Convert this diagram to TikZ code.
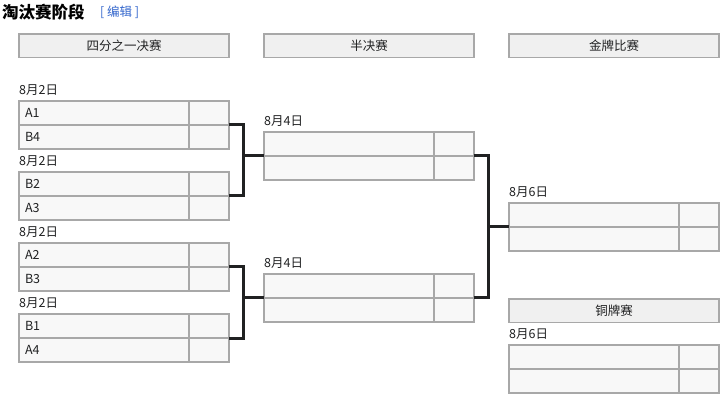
\documentclass[tikz,border=0pt]{standalone}
\usepackage{fontspec}
\setmainfont{Noto Sans CJK SC}
\usetikzlibrary{positioning,calc}
\definecolor{boxgray}{HTML}{A8A8A8}
\definecolor{rowfill}{HTML}{F8F8F8}
\definecolor{headfill}{HTML}{F0F0F0}
\definecolor{inkdark}{HTML}{202122}
\definecolor{editblue}{HTML}{3366CC}
\tikzset{
  team/.style={draw=boxgray,fill=rowfill,line width=1.8pt,outer sep=0pt,
    minimum width=170pt,minimum height=24pt,text width=158pt,inner xsep=6pt,
    inner ysep=0pt,align=left,anchor=north west,text=inkdark,
    font=\fontsize{12.5}{14}\selectfont},
  score/.style={draw=boxgray,fill=rowfill,line width=1.8pt,outer sep=0pt,
    minimum width=40pt,minimum height=24pt,inner sep=0pt},
  head/.style={draw=boxgray,fill=headfill,line width=1.8pt,outer sep=0pt,
    minimum width=210pt,minimum height=23.5pt,inner sep=0pt,anchor=north west,
    text=inkdark,font=\fontsize{12.5}{14}\selectfont},
  date/.style={anchor=west,inner sep=0pt,text=inkdark,
    font=\fontsize{12.5}{14}\selectfont},
  link/.style={draw=inkdark,line width=3pt}
}
\begin{document}
\begin{tikzpicture}[x=1pt,y=-1pt]
  \useasboundingbox (0,0) rectangle (728,403);
  % title
  \node[anchor=west,inner sep=0pt,text=black,font=\fontsize{16.5}{18}\selectfont\bfseries] (title) at (2,12) {淘汰赛阶段};
  \node[right=15pt of title,inner sep=0pt,text=editblue,font=\fontsize{12.5}{14}\selectfont] (edit) {[ 编辑 ]};
  % headers
  \node[head] (hq) at (19,34) {四分之一决赛};
  \node[head] (hs) at (264,34) {半决赛};
  \node[head] (hf) at (509,34) {金牌比赛};
  \node[head] (hb) at (509,299) {铜牌赛};
  % quarterfinals
  \node[date] (dq1) at (19,90) {8月2日};
  \node[team] (q1a) at (19,101) {A1};
  \node[score,right=0pt of q1a] (q1as) {};
  \node[team,below=0pt of q1a] (q1b) {B4};
  \node[score,right=0pt of q1b] (q1bs) {};
  \node[date] (dq2) at (19,161) {8月2日};
  \node[team] (q2a) at (19,172) {B2};
  \node[score,right=0pt of q2a] (q2as) {};
  \node[team,below=0pt of q2a] (q2b) {A3};
  \node[score,right=0pt of q2b] (q2bs) {};
  \node[date] (dq3) at (19,232) {8月2日};
  \node[team] (q3a) at (19,243) {A2};
  \node[score,right=0pt of q3a] (q3as) {};
  \node[team,below=0pt of q3a] (q3b) {B3};
  \node[score,right=0pt of q3b] (q3bs) {};
  \node[date] (dq4) at (19,303) {8月2日};
  \node[team] (q4a) at (19,314) {B1};
  \node[score,right=0pt of q4a] (q4as) {};
  \node[team,below=0pt of q4a] (q4b) {A4};
  \node[score,right=0pt of q4b] (q4bs) {};
  % semifinals
  \node[date] (ds1) at (264,121) {8月4日};
  \node[team] (s1a) at (264,132) {};
  \node[score,right=0pt of s1a] (s1as) {};
  \node[team,below=0pt of s1a] (s1b) {};
  \node[score,right=0pt of s1b] (s1bs) {};
  \node[date] (ds2) at (264,263) {8月4日};
  \node[team] (s2a) at (264,274) {};
  \node[score,right=0pt of s2a] (s2as) {};
  \node[team,below=0pt of s2a] (s2b) {};
  \node[score,right=0pt of s2b] (s2bs) {};
  % gold match
  \node[date] (df) at (509,192) {8月6日};
  \node[team] (fa) at (509,203) {};
  \node[score,right=0pt of fa] (fas) {};
  \node[team,below=0pt of fa] (fb) {};
  \node[score,right=0pt of fb] (fbs) {};
  % bronze match
  \node[date] (db) at (509,334) {8月6日};
  \node[team] (ba) at (509,345) {};
  \node[score,right=0pt of ba] (bas) {};
  \node[team,below=0pt of ba] (bb) {};
  \node[score,right=0pt of bb] (bbs) {};
  % bracket lines
  \coordinate (j1) at ($(s1a.south west)+(-21,0)$);
  \coordinate (j2) at ($(s2a.south west)+(-21,0)$);
  \coordinate (j3) at ($(fa.south west)+(-21,0)$);
  \draw[link] (q1as.south east) -| (j1) |- (q2as.south east);
  \draw[link] (j1) -- (s1a.south west);
  \draw[link] (q3as.south east) -| (j2) |- (q4as.south east);
  \draw[link] (j2) -- (s2a.south west);
  \draw[link] (s1as.south east) -| (j3) |- (s2as.south east);
  \draw[link] (j3) -- (fa.south west);
\end{tikzpicture}
\end{document}
